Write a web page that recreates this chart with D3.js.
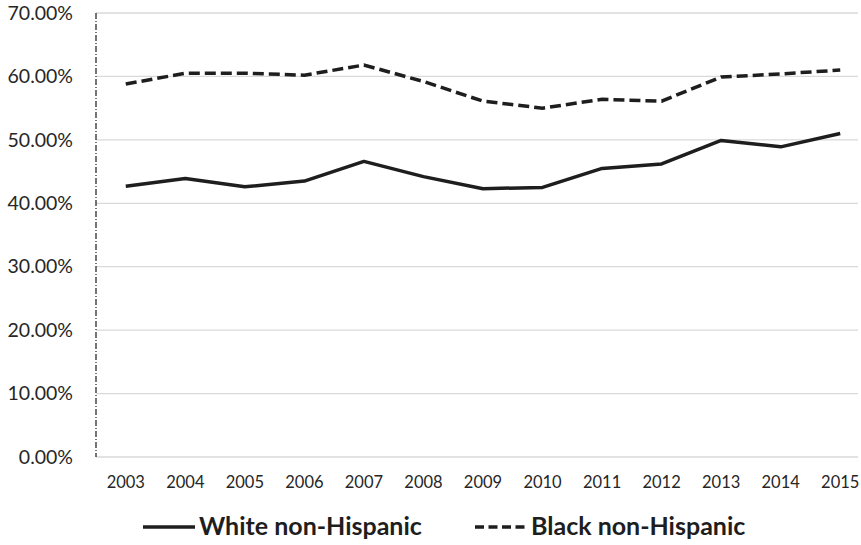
<!DOCTYPE html>
<html>
<head>
<meta charset="utf-8">
<script src="https://cdn.jsdelivr.net/npm/d3@7"></script>
<style>
  html, body { margin: 0; padding: 0; background: #fff; }
  svg { display: block; }
</style>
</head>
<body>
<svg id="chart" width="861" height="545"></svg>
<script>
// Share of population by year, two groups
const years = ["2003","2004","2005","2006","2007","2008","2009","2010","2011","2012","2013","2014","2015"];
const whiteNonHispanic = [42.7, 43.9, 42.6, 43.5, 46.6, 44.2, 42.3, 42.5, 45.5, 46.2, 49.9, 48.9, 51.0];
const blackNonHispanic = [58.8, 60.5, 60.5, 60.2, 61.8, 59.2, 56.1, 55.0, 56.4, 56.1, 59.9, 60.4, 61.0];
const yTicks = [0, 10, 20, 30, 40, 50, 60, 70];
const seriesNames = ["White non-Hispanic", "Black non-Hispanic"];

const svg = d3.select("#chart");
const font = "Lato, 'Open Sans', sans-serif";

const plotLeft = 96, plotRight = 870, plotTop = 13, plotBottom = 457;

const x = d3.scaleBand().domain(years).range([plotLeft, plotRight]);
const y = d3.scaleLinear().domain([0, 70]).range([plotBottom, plotTop]);

// horizontal gridlines
svg.append("g")
  .selectAll("line")
  .data(yTicks)
  .join("line")
  .attr("x1", plotLeft).attr("x2", 858)
  .attr("y1", d => y(d)).attr("y2", d => y(d))
  .attr("stroke", "#d9d9d9").attr("stroke-width", 1.3);

// y axis labels
const yAxis = d3.axisLeft(y).tickValues(yTicks).tickSize(0).tickPadding(0)
  .tickFormat(d => d.toFixed(2) + "%");
const gy = svg.append("g").attr("transform", `translate(73,0)`).call(yAxis);
gy.select(".domain").remove();
gy.selectAll("text").attr("font-family", font).attr("font-size", 19.5).attr("fill", "#262626");

// dash-dot vertical axis line
svg.append("line")
  .attr("x1", plotLeft).attr("x2", plotLeft)
  .attr("y1", plotTop).attr("y2", plotBottom)
  .attr("stroke", "#1a1a1a").attr("stroke-width", 1.2)
  .attr("stroke-dasharray", "6,2,1,2");

// x axis labels
const xAxis = d3.axisBottom(x).tickSize(0).tickPadding(0);
const gx = svg.append("g").attr("transform", `translate(0,${plotBottom})`).call(xAxis);
gx.select(".domain").remove();
gx.selectAll("text")
  .attr("font-family", font).attr("font-size", 16.5).attr("fill", "#262626")
  .attr("dy", null).attr("y", 31);

const cx = d => x(d) + x.bandwidth() / 2;
const line = d3.line().x((d, i) => cx(years[i])).y(d => y(d));

svg.append("path")
  .datum(whiteNonHispanic)
  .attr("d", line)
  .attr("fill", "none")
  .attr("stroke", "#1e1e1e")
  .attr("stroke-width", 3.5)
  .attr("stroke-linejoin", "round");

svg.append("path")
  .datum(blackNonHispanic)
  .attr("d", line)
  .attr("fill", "none")
  .attr("stroke", "#1e1e1e")
  .attr("stroke-width", 3.5)
  .attr("stroke-dasharray", "11,5");

// legend
const legend = svg.append("g");
const items = [
  { name: seriesNames[0], x0: 143, dash: null },
  { name: seriesNames[1], x0: 475, dash: "9,4.5" }
];
items.forEach(it => {
  legend.append("line")
    .attr("x1", it.x0).attr("x2", it.x0 + 52)
    .attr("y1", 527).attr("y2", 527)
    .attr("stroke", "#1e1e1e").attr("stroke-width", 3.5)
    .attr("stroke-dasharray", it.dash);
  legend.append("text")
    .attr("x", it.x0 + 56).attr("y", 535)
    .attr("font-family", font).attr("font-weight", "bold").attr("font-size", 25)
    .attr("fill", "#1e1e1e")
    .text(it.name);
});
</script>
</body>
</html>
